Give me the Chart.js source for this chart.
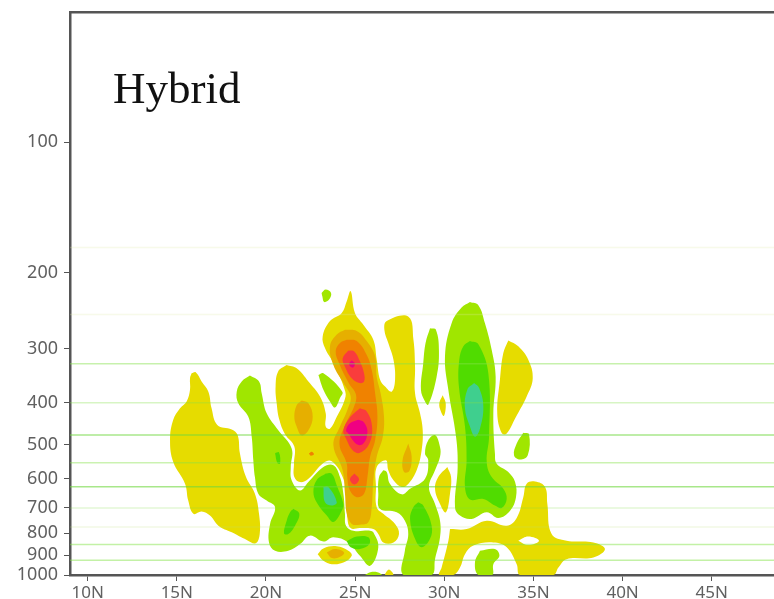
<!DOCTYPE html>
<html>
<head>
<meta charset="utf-8">
<title>Hybrid</title>
<script src="https://cdn.jsdelivr.net/npm/chart.js@4"></script>
<style>
    html, body { margin: 0; padding: 0; background: #fff; }
    #wrap { position: relative; width: 774px; height: 599px; overflow: hidden; }
    #chart { filter: blur(0.4px); }
    #label { position: absolute; left: 113px; top: 62px; font: 45px "Liberation Serif", serif; color: #111; }
</style>
</head>
<body>
<div id="wrap">
    <canvas id="chart" width="774" height="599"></canvas>
    <div id="label">Hybrid</div>
</div>
<script>
// axis values
const latTicks = [10, 15, 20, 25, 30, 35, 40, 45];
const pressureTicks = [100, 200, 300, 400, 500, 600, 700, 800, 900, 1000];
const levels = [175, 250, 325, 400, 475, 550, 625, 700, 775, 850, 925];

// contours, each point is [latitude, pressure hPa]
const westYellow = [[15.83,342],[16.06,340],[16.39,357],[16.77,377],[16.95,412],[17.27,450],[18.08,461],[18.41,475],[18.54,524],[18.88,594],[19.38,649],[19.61,722],[19.65,804],[19.42,845],[18.92,830],[18.08,797],[17.33,769],[16.86,729],[16.39,713],[15.93,722],[15.64,673],[15.46,615],[14.80,548],[14.62,488],[14.80,438],[15.18,412],[15.55,397],[15.74,373],[15.74,351],[15.83,342]];
const centralYellow = [[21.16,327],[21.72,333],[22.38,357],[23.03,387],[23.35,423],[23.35,454],[23.59,459],[23.97,431],[24.38,397],[24.45,377],[23.78,324],[23.31,299],[23.18,281],[23.59,259],[24.25,248],[24.53,233],[24.75,221],[24.99,248],[25.46,264],[26.02,286],[26.21,318],[26.40,354],[26.68,367],[27.05,377],[27.24,354],[27.15,318],[26.86,291],[26.64,271],[26.77,259],[27.99,253],[28.27,286],[28.36,330],[28.36,380],[28.64,423],[28.79,463],[28.73,515],[28.45,573],[27.99,615],[27.61,626],[27.15,604],[26.86,573],[26.73,543],[26.21,563],[26.17,626],[26.21,697],[26.58,722],[27.24,762],[27.46,804],[27.15,841],[26.58,841],[26.30,804],[26.02,783],[25.27,779],[24.75,779],[24.56,735],[24.53,661],[24.30,594],[23.69,546],[23.22,551],[22.38,599],[21.91,610],[21.59,594],[21.57,553],[21.59,505],[21.07,473],[20.75,438],[20.60,401],[20.54,367],[20.69,338],[21.16,327]];
const seYellow = [[30.32,783],[31.25,783],[32.38,749],[33.50,769],[34.06,738],[34.43,661],[34.62,615],[35.09,608],[35.65,626],[35.78,685],[36.02,804],[36.86,833],[38.36,841],[39.01,871],[38.36,911],[36.86,919],[36.40,961],[36.12,1000],[34.25,1000],[34.06,944],[33.50,863],[32.75,841],[31.63,855],[31.16,895],[30.88,961],[30.51,1000],[29.72,1000],[29.85,961],[30.23,833],[30.32,783]];
const eastYellow = [[33.59,287],[34.15,296],[34.71,318],[34.96,351],[34.62,387],[33.97,435],[33.50,471],[33.22,470],[32.97,423],[33.12,354],[33.31,307],[33.59,287]];
const smallYellowA = [[29.91,384],[30.08,401],[29.98,429],[29.81,419],[29.72,401],[29.91,384]];
const smallYellowB = [[30.17,563],[30.38,594],[30.32,649],[30.09,716],[29.76,685],[29.48,632],[29.66,594],[30.17,563]];
const lowYellow = [[22.90,895],[23.22,868],[23.97,858],[24.62,879],[24.81,903],[24.34,936],[23.69,944],[23.22,927],[22.90,895]];
const floorYellow = [[26.67,1000],[26.72,988],[26.92,972],[27.14,1000],[26.67,1000]];

const westAmber = [[22.00,395],[22.38,401],[22.62,431],[22.38,463],[22.00,476],[21.72,454],[21.59,431],[21.72,405],[22.00,395]];
const speckAmber = [[22.41,524],[22.56,519],[22.69,526],[22.51,530],[22.41,524]];
const lowAmber = [[23.41,887],[23.87,871],[24.38,887],[24.15,908],[23.69,914],[23.41,887]];
const eastAmber = [[27.98,497],[28.17,533],[28.04,575],[27.74,578],[27.66,543],[27.98,497]];
const centralAmber = [[24.43,271],[25.09,273],[25.65,288],[26.12,312],[26.21,348],[26.43,380],[26.62,431],[26.55,479],[26.21,533],[26.02,604],[25.93,697],[25.74,755],[25.27,765],[24.81,762],[24.53,722],[24.43,649],[24.30,573],[23.78,501],[24.15,454],[24.56,416],[24.75,387],[24.34,360],[23.78,327],[23.59,296],[23.97,278],[24.43,271]];
const centralOrange = [[24.53,286],[25.09,288],[25.65,310],[25.93,336],[26.12,380],[26.25,431],[26.12,488],[25.84,533],[25.69,594],[25.50,649],[25.09,661],[24.71,638],[24.56,594],[24.53,553],[24.12,497],[24.49,446],[24.94,408],[25.05,383],[24.64,360],[24.10,324],[23.91,304],[24.15,291],[24.53,286]];
const upperRed = [[24.62,303],[24.94,304],[25.27,321],[25.50,342],[25.50,357],[25.24,360],[24.81,351],[24.43,330],[24.30,316],[24.62,303]];
const middleRed = [[25.27,412],[25.65,419],[25.95,454],[25.80,497],[25.27,522],[24.86,515],[24.49,484],[24.34,463],[24.68,434],[25.27,412]];
const lowerRed = [[24.96,583],[25.22,601],[24.96,618],[24.71,601],[24.96,583]];
const upperMagenta = [[24.81,319],[24.99,325],[24.86,332],[24.66,326],[24.81,319]];
const middleMagenta = [[25.18,438],[25.50,444],[25.69,467],[25.46,497],[25.09,499],[24.62,471],[24.49,463],[24.71,446],[25.18,438]];

const westGreen = [[19.10,346],[19.61,357],[19.76,380],[20.04,423],[20.69,463],[21.44,510],[21.39,563],[21.44,604],[21.91,638],[22.38,610],[23.22,563],[23.78,558],[24.15,594],[24.34,649],[24.43,722],[24.49,769],[24.90,790],[25.84,790],[26.02,797],[26.30,863],[25.84,952],[25.27,903],[24.62,841],[23.78,818],[23.22,837],[22.47,811],[21.91,848],[21.25,879],[20.51,879],[20.17,841],[20.23,762],[20.51,697],[20.04,673],[19.57,649],[19.38,594],[19.29,543],[19.20,479],[19.01,431],[18.45,401],[18.36,377],[18.64,357],[19.10,346]];
const topGreen = [[23.12,223],[23.35,219],[23.65,223],[23.54,231],[23.26,234],[23.16,227],[23.12,223]];
const diagGreen = [[22.94,345],[23.22,342],[24.28,377],[24.15,390],[23.87,410],[23.59,397],[23.22,373],[22.94,345]];
const stripGreen = [[26.58,573],[26.77,578],[26.95,615],[27.61,651],[28.08,632],[28.92,599],[29.10,543],[28.92,524],[29.10,488],[29.48,475],[29.76,506],[29.76,533],[29.48,573],[29.14,626],[29.48,685],[29.76,749],[29.76,818],[29.48,919],[29.29,1000],[27.70,1000],[27.79,879],[27.98,804],[27.79,749],[27.33,716],[26.39,703],[26.30,649],[26.34,594],[26.58,573]];
const northGreen = [[29.20,269],[29.53,271],[29.70,304],[29.57,348],[29.10,404],[28.92,397],[28.69,373],[28.82,324],[28.95,291],[29.20,269]];
const tallGreen = [[31.44,234],[31.91,238],[32.28,262],[32.66,302],[32.88,348],[32.75,423],[32.84,524],[32.94,553],[33.59,578],[33.97,610],[34.02,661],[33.69,710],[33.03,738],[32.38,716],[31.53,742],[30.88,729],[30.60,697],[30.75,563],[30.66,479],[30.23,374],[30.04,312],[30.41,262],[30.97,241],[31.44,234]];
const eastGreen = [[34.43,469],[34.75,473],[34.68,529],[34.25,541],[33.91,529],[34.06,497],[34.43,469]];
const southGreen = [[32.00,879],[32.84,871],[33.09,903],[32.75,944],[32.69,1000],[31.91,1000],[31.72,936],[32.00,879]];
const floorGreen = [[25.55,1000],[25.85,985],[26.25,985],[26.49,1000],[25.55,1000]];

const deepA = [[20.51,523],[20.73,521],[20.79,553],[20.64,551],[20.51,523]];
const deepB = [[21.54,703],[21.87,722],[21.63,769],[21.25,804],[21.01,801],[21.16,749],[21.35,716],[21.54,703]];
const deepC = [[23.35,583],[23.68,583],[23.97,621],[24.34,685],[24.25,710],[23.78,754],[23.41,729],[22.84,679],[22.66,643],[22.84,604],[23.35,583]];
const deepD = [[24.53,836],[25.09,815],[25.74,818],[25.80,848],[25.27,871],[24.75,863],[24.53,836]];
const deepE = [[28.54,679],[28.82,691],[29.29,769],[29.20,825],[28.73,863],[28.36,825],[28.08,742],[28.26,697],[28.54,679]];
const deepF = [[31.44,288],[31.91,293],[32.47,342],[32.51,479],[32.38,548],[32.66,594],[33.31,632],[33.50,667],[33.22,700],[32.84,691],[32.19,667],[31.44,669],[31.16,626],[31.25,543],[31.16,454],[30.82,367],[30.84,318],[31.07,296],[31.44,288]];
const tealA = [[23.22,626],[23.50,626],[23.97,679],[23.69,691],[23.31,679],[23.22,626]];
const tealB = [[31.67,360],[31.96,370],[32.19,408],[32.00,459],[31.72,479],[31.44,454],[31.16,412],[31.29,373],[31.67,360]];
const seHole = [[34.15,833],[34.71,815],[35.31,833],[34.71,853],[34.15,833]];

const colors = {
    yellow: '#e6dc00',
    amber: '#e6af00',
    orange: '#f08200',
    red: '#fa3c3c',
    magenta: '#f00082',
    green: '#a0e600',
    deep: '#50dc00',
    teal: '#3fcf8e',
    white: '#ffffff'
};

// bottom first
const layers = [
    [westYellow, colors.yellow], [centralYellow, colors.yellow], [seYellow, colors.yellow],
    [eastYellow, colors.yellow], [smallYellowA, colors.yellow], [smallYellowB, colors.yellow],
    [lowYellow, colors.yellow], [floorYellow, colors.yellow],
    [westAmber, colors.amber], [lowAmber, colors.amber], [eastAmber, colors.amber], [centralAmber, colors.amber],
    [speckAmber, colors.orange], [centralOrange, colors.orange],
    [upperRed, colors.red], [middleRed, colors.red], [lowerRed, colors.red],
    [upperMagenta, colors.magenta], [middleMagenta, colors.magenta],
    [westGreen, colors.green], [topGreen, colors.green], [diagGreen, colors.green], [stripGreen, colors.green],
    [northGreen, colors.green], [tallGreen, colors.green], [eastGreen, colors.green], [southGreen, colors.green],
    [floorGreen, colors.green],
    [deepA, colors.deep], [deepB, colors.deep], [deepC, colors.deep], [deepD, colors.deep], [deepE, colors.deep], [deepF, colors.deep],
    [tealA, colors.teal], [tealB, colors.teal],
    [seHole, colors.white]
];

const latMin = 9.01;
const latMax = 48.49;
const axisColor = '#555';

const levelColors = {
    175: 'rgba(225,235,170,0.25)',
    250: 'rgba(225,235,170,0.25)',
    325: 'rgba(130,225,70,0.45)',
    400: 'rgba(130,225,70,0.32)',
    475: 'rgba(110,215,60,0.6)',
    550: 'rgba(130,225,70,0.42)',
    625: 'rgba(110,215,60,0.6)',
    700: 'rgba(130,225,70,0.22)',
    775: 'rgba(190,225,120,0.2)',
    850: 'rgba(130,225,70,0.48)',
    925: 'rgba(130,225,70,0.48)'
};

const datasets = [];
layers.forEach((layer, i) => {
    datasets.push({
        data: layer[0].map(p => ({ x: p[0], y: p[1] })),
        showLine: true,
        fill: 'shape',
        backgroundColor: layer[1],
        borderWidth: 0,
        pointRadius: 0,
        tension: 0.4,
        order: 1000 - i
    });
});
levels.forEach(level => {
    datasets.push({
        data: [{ x: latMin, y: level }, { x: latMax, y: level }],
        showLine: true,
        fill: false,
        borderColor: levelColors[level],
        borderWidth: 1.5,
        pointRadius: 0,
        order: 1
    });
});

// keep the plot box fixed, labels may hang past it
function fixHeight(height) {
    return axis => {
        axis.height = height;
        axis.paddingLeft = 0;
        axis.paddingRight = 0;
    };
}

new Chart('chart', {
    type: 'scatter',
    data: { datasets: datasets },
    options: {
        responsive: false,
        animation: false,
        layout: { padding: { top: 12, right: 0, bottom: 0, left: 0 } },
        plugins: { legend: { display: false }, tooltip: { enabled: false } },
        scales: {
            x: {
                type: 'linear',
                min: latMin,
                max: latMax,
                afterBuildTicks: axis => { axis.ticks = latTicks.map(v => ({ value: v })); },
                afterFit: fixHeight(24),
                grid: { drawOnChartArea: false, color: axisColor, tickLength: 6 },
                border: { color: axisColor, width: 2.5 },
                ticks: {
                    autoSkip: false,
                    maxRotation: 0,
                    padding: 2,
                    color: '#606060',
                    font: { family: 'Noto Sans', size: 17 },
                    callback: v => v + 'N'
                }
            },
            top: {
                type: 'linear',
                position: 'top',
                min: latMin,
                max: latMax,
                afterFit: fixHeight(0),
                grid: { display: false },
                border: { color: axisColor, width: 2.5 },
                ticks: { display: false }
            },
            y: {
                type: 'logarithmic',
                reverse: true,
                min: 50,
                max: 1000,
                afterBuildTicks: axis => { axis.ticks = pressureTicks.map(v => ({ value: v })); },
                afterFit: axis => {
                    axis.width = 70;
                    axis.paddingTop = 0;
                    axis.paddingBottom = 0;
                },
                grid: { drawOnChartArea: false, color: axisColor, tickLength: 6 },
                border: { color: axisColor, width: 2.5 },
                ticks: {
                    autoSkip: false,
                    padding: 6,
                    color: '#606060',
                    font: { family: 'Noto Sans', size: 18 },
                    callback: v => String(v)
                }
            }
        }
    }
});
</script>
</body>
</html>
